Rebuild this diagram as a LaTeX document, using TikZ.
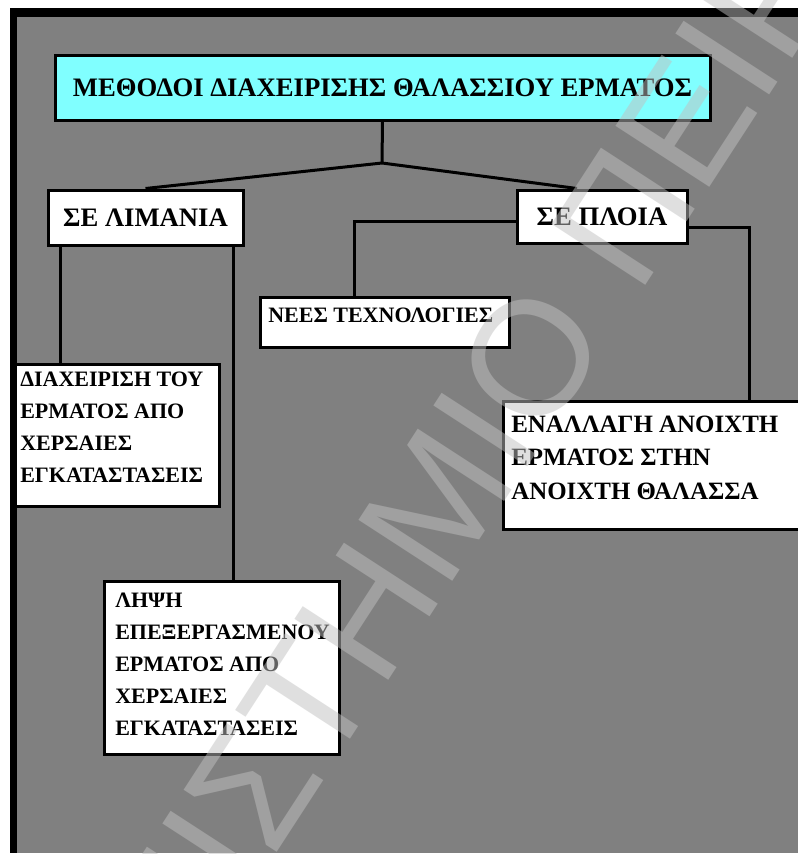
\documentclass[tikz,border=0pt]{standalone}
\usepackage{fontspec}
\setmainfont{Liberation Serif}
\newfontfamily\wmfont{Liberation Sans}
\definecolor{bggray}{RGB}{128,128,128}
\definecolor{titlecyan}{RGB}{128,255,255}
\definecolor{wmgray}{RGB}{192,192,192}
\begin{document}
\begin{tikzpicture}[x=0.75pt,y=-0.75pt,
  box/.style={draw=black, line width=2.25pt, fill=white, inner sep=0pt, rectangle},
  conn/.style={draw=black, line width=2.25pt},
  big/.style={font=\fontsize{20}{24}\selectfont\bfseries},
  mid/.style={font=\fontsize{18.7}{22}\selectfont\bfseries, inner sep=0pt, anchor=base west},
  small/.style={font=\fontsize{16.5}{20}\selectfont\bfseries, inner sep=0pt, anchor=base west},
  wm/.style={font=\wmfont\fontsize{122}{130}\selectfont, text=wmgray, text opacity=0.5, inner sep=0pt, rotate=57}
]
\useasboundingbox (0,0) rectangle (798,854);
\clip (0,0) rectangle (798,854);
\fill[white] (0,0) rectangle (798,854);
\fill[bggray] (10,8) rectangle (798,853);
\fill[black] (10,8) rectangle (798,17);
\fill[black] (10,8) rectangle (17,853);

% boxes
\node[box, fill=titlecyan, minimum width=491.25pt, minimum height=48.75pt, big] (title) at (382.5,87.5) {ΜΕΘΟΔΟΙ ΔΙΑΧΕΙΡΙΣΗΣ ΘΑΛΑΣΣΙΟΥ ΕΡΜΑΤΟΣ};
\node[box, minimum width=146.25pt, minimum height=41.25pt, big] (lim) at (145.5,217.5) {ΣΕ ΛΙΜΑΝΙΑ};
\node[box, minimum width=127.5pt, minimum height=39.75pt, big] (ploia) at (602,216.5) {ΣΕ ΠΛΟΙΑ};
\node[box, minimum width=186.75pt, minimum height=37.5pt] (nees) at (384.5,322) {};
\node[box, minimum width=153pt, minimum height=106.5pt] (diax) at (117,435) {};
\node[box, minimum width=176.25pt, minimum height=129.75pt] (lipsi) at (221.5,667.5) {};
\node[box, minimum width=237.75pt, minimum height=96pt] (enal) at (661.5,465) {};

% texts
\node[small] (neest) at (268,322) {ΝΕΕΣ ΤΕΧΝΟΛΟΓΙΕΣ};
\node[small] (d1) at (20,386) {ΔΙΑΧΕΙΡΙΣΗ ΤΟΥ};
\node[small] (d2) at (20,418) {ΕΡΜΑΤΟΣ ΑΠΟ};
\node[small] (d3) at (20,450) {ΧΕΡΣΑΙΕΣ};
\node[small] (d4) at (20,482) {ΕΓΚΑΤΑΣΤΑΣΕΙΣ};
\node[small] (l1) at (115,607) {ΛΗΨΗ};
\node[small] (l2) at (115,639) {ΕΠΕΞΕΡΓΑΣΜΕΝΟΥ};
\node[small] (l3) at (115,671) {ΕΡΜΑΤΟΣ ΑΠΟ};
\node[small] (l4) at (115,703) {ΧΕΡΣΑΙΕΣ};
\node[small] (l5) at (115,735) {ΕΓΚΑΤΑΣΤΑΣΕΙΣ};
\node[mid] (e1) at (511,432) {ΕΝΑΛΛΑΓΗ ΑΝΟΙΧΤΗ};
\node[mid] (e2) at (511,465) {ΕΡΜΑΤΟΣ ΣΤΗΝ};
\node[mid] (e3) at (511,499) {ΑΝΟΙΧΤΗ ΘΑΛΑΣΣΑ};

% connectors
\coordinate (j) at (382,163);
\draw[conn] (title.south) -- (j);
\draw[conn] (j) -- (lim.north);
\draw[conn] (j) -- ([xshift=-18.75pt]ploia.north);
\draw[conn] ([xshift=10.5pt]lim.south west) -- ([xshift=10.5pt]lim.south west |- diax.north);
\draw[conn] ([xshift=-8.25pt]lim.south east) -- ([xshift=-8.25pt]lim.south east |- lipsi.north);
\draw[conn] ([yshift=-3.375pt]ploia.west) -| ([xshift=-22.875pt]nees.north);
\draw[conn] ([yshift=-7.875pt]ploia.east) -| ([xshift=65.625pt]enal.north);

% watermark
\node[wm, anchor=base east] (wma) at (613,335) {ΠΑΝΕΠΙΣΤΗΜΙΟ};
\node[wm, anchor=base west] (wmb) at (638,297) {ΠΕΙΡΑΙΩΣ};
\end{tikzpicture}
\end{document}
